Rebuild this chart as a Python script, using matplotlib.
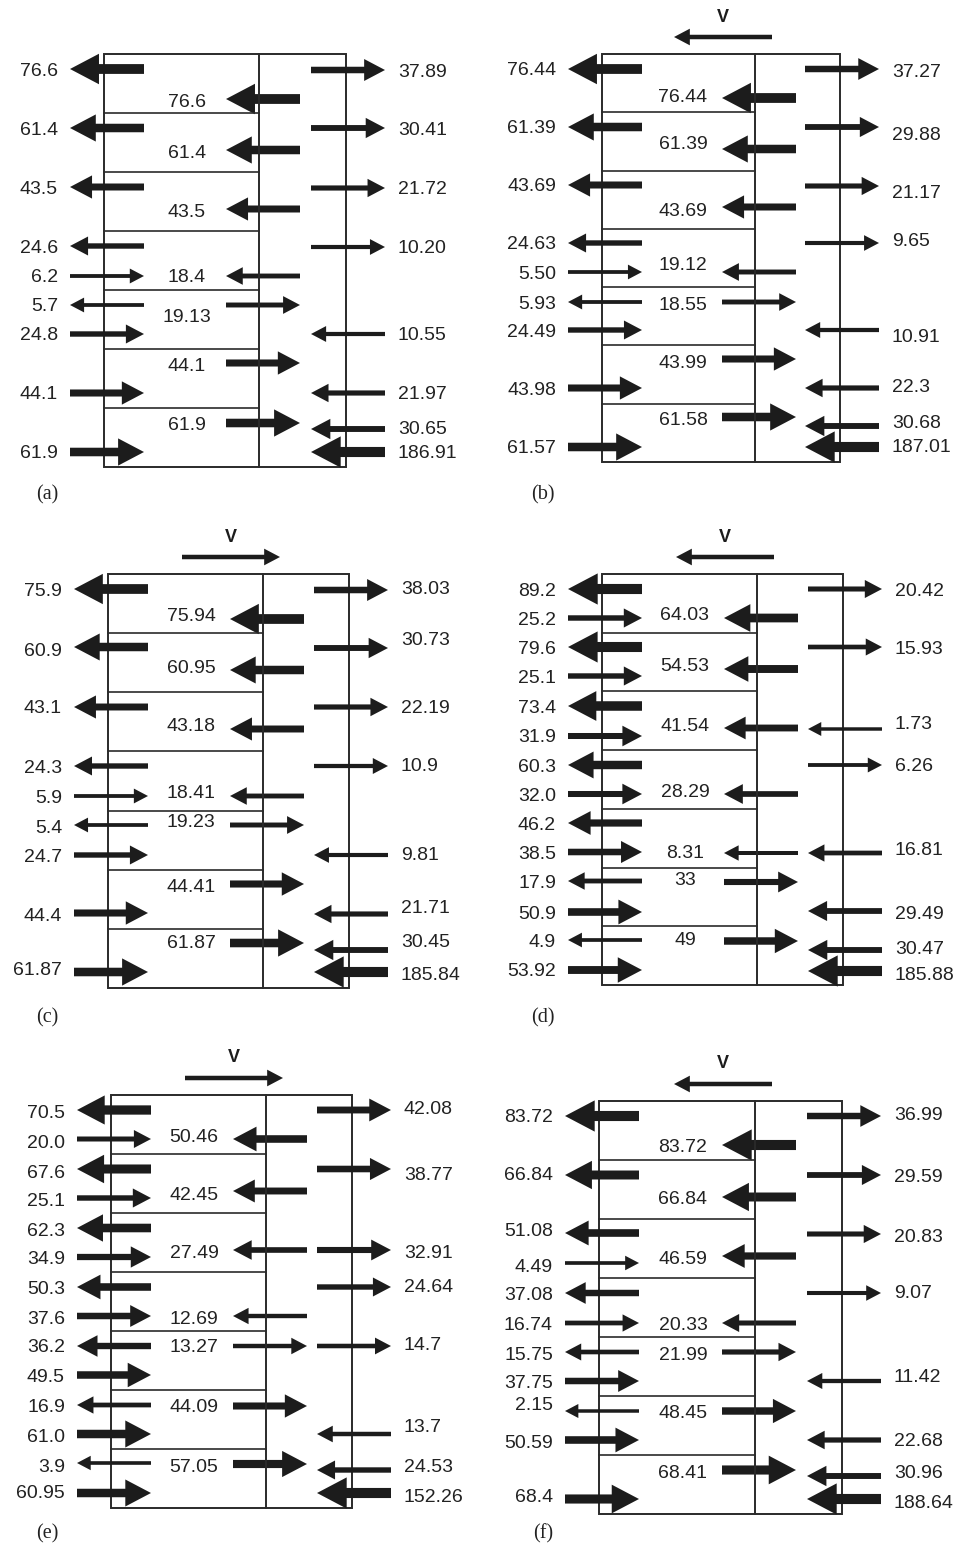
import matplotlib
matplotlib.use("Agg")
import matplotlib.pyplot as plt
from matplotlib.patches import FancyArrow, Rectangle

# ---- values (labels) per panel; direction: -1 points left, +1 points right ----
a_left = ['76.6', '61.4', '43.5', '24.6', '6.2', '5.7', '24.8', '44.1', '61.9']
a_left_dir = [-1, -1, -1, -1, 1, -1, 1, 1, 1]
a_inner = ['76.6', '61.4', '43.5', '18.4', '19.13', '44.1', '61.9']
a_inner_dir = [-1, -1, -1, -1, 1, 1, 1]
a_wall = ['37.89', '30.41', '21.72', '10.20', '10.55', '21.97', '30.65', '186.91']
a_wall_dir = [1, 1, 1, 1, -1, -1, -1, -1]

b_left = ['76.44', '61.39', '43.69', '24.63', '5.50', '5.93', '24.49', '43.98', '61.57']
b_left_dir = [-1, -1, -1, -1, 1, -1, 1, 1, 1]
b_inner = ['76.44', '61.39', '43.69', '19.12', '18.55', '43.99', '61.58']
b_inner_dir = [-1, -1, -1, -1, 1, 1, 1]
b_wall = ['37.27', '29.88', '21.17', '9.65', '10.91', '22.3', '30.68', '187.01']
b_wall_dir = [1, 1, 1, 1, -1, -1, -1, -1]

c_left = ['75.9', '60.9', '43.1', '24.3', '5.9', '5.4', '24.7', '44.4', '61.87']
c_left_dir = [-1, -1, -1, -1, 1, -1, 1, 1, 1]
c_inner = ['75.94', '60.95', '43.18', '18.41', '19.23', '44.41', '61.87']
c_inner_dir = [-1, -1, -1, -1, 1, 1, 1]
c_wall = ['38.03', '30.73', '22.19', '10.9', '9.81', '21.71', '30.45', '185.84']
c_wall_dir = [1, 1, 1, 1, -1, -1, -1, -1]

d_left = ['89.2', '25.2', '79.6', '25.1', '73.4', '31.9', '60.3', '32.0',
          '46.2', '38.5', '17.9', '50.9', '4.9', '53.92']
d_left_dir = [-1, 1, -1, 1, -1, 1, -1, 1, -1, 1, -1, 1, -1, 1]
d_inner = ['64.03', '54.53', '41.54', '28.29', '8.31', '33', '49']
d_inner_dir = [-1, -1, -1, -1, -1, 1, 1]
d_wall = ['20.42', '15.93', '1.73', '6.26', '16.81', '29.49', '30.47', '185.88']
d_wall_dir = [1, 1, -1, 1, -1, -1, -1, -1]

e_left = ['70.5', '20.0', '67.6', '25.1', '62.3', '34.9', '50.3', '37.6',
          '36.2', '49.5', '16.9', '61.0', '3.9', '60.95']
e_left_dir = [-1, 1, -1, 1, -1, 1, -1, 1, -1, 1, -1, 1, -1, 1]
e_inner = ['50.46', '42.45', '27.49', '12.69', '13.27', '44.09', '57.05']
e_inner_dir = [-1, -1, -1, -1, 1, 1, 1]
e_wall = ['42.08', '38.77', '32.91', '24.64', '14.7', '13.7', '24.53', '152.26']
e_wall_dir = [1, 1, 1, 1, 1, -1, -1, -1]

f_left = ['83.72', '66.84', '51.08', '4.49', '37.08', '16.74', '15.75', '37.75',
          '2.15', '50.59', '68.4']
f_left_dir = [-1, -1, -1, 1, -1, 1, -1, 1, -1, 1, 1]
f_inner = ['83.72', '66.84', '46.59', '20.33', '21.99', '48.45', '68.41']
f_inner_dir = [-1, -1, -1, -1, 1, 1, 1]
f_wall = ['36.99', '29.59', '20.83', '9.07', '11.42', '22.68', '30.96', '188.64']
f_wall_dir = [1, 1, 1, 1, -1, -1, -1, -1]

captions = ['(a)', '(b)', '(c)', '(d)', '(e)', '(f)']
v_dir = [0, -1, 1, -1, 1, -1]   # direction of the V arrow above each panel (0 = none)

# ---- layout (pixel units, offsets measured from top of each box) ----
boxes = [  # left, mid, right, top, bottom
    (104, 259, 346, 54, 467),
    (602, 755, 840, 54, 462),
    (108, 263, 349, 574, 988),
    (602, 757, 843, 574, 985),
    (111, 266, 352, 1095, 1508),
    (599, 755, 842, 1101, 1514),
]
caption_y = [495, 1018, 1534]   # one per row of panels
left_y = [
    [15, 74, 133, 192, 222, 251, 280, 339, 398],
    [15, 73, 131, 189, 218, 248, 276, 334, 393],
    [15, 73, 133, 192, 222, 251, 281, 339, 398],
    [15, 44, 73, 102, 132, 162, 191, 220, 249, 278, 307, 338, 366, 396],
    [15, 44, 74, 103, 133, 162, 192, 221, 251, 280, 310, 339, 368, 398],
    [15, 74, 132, 162, 192, 222, 251, 280, 310, 339, 398],
]
left_ly = [
    [17, 76, 135, 194, 223, 252, 281, 340, 399],
    [16, 74, 132, 190, 220, 250, 278, 336, 394],
    [17, 77, 134, 194, 224, 254, 283, 342, 396],
    [17, 46, 75, 104, 134, 163, 193, 222, 251, 280, 309, 340, 368, 397],
    [18, 48, 78, 107, 137, 165, 195, 225, 253, 283, 313, 342, 372, 399],
    [16, 74, 131, 166, 195, 224, 254, 283, 305, 342, 396],
]
inner_y = [
    [45, 96, 155, 222, 251, 309, 369],
    [44, 95, 153, 218, 248, 305, 363],
    [45, 96, 155, 222, 251, 310, 369],
    [44, 95, 154, 220, 279, 308, 367],
    [44, 96, 155, 221, 251, 311, 369],
    [44, 96, 155, 222, 251, 310, 369],
]
inner_ly = [
    [48, 99, 158, 223, 263, 312, 371],
    [43, 90, 157, 211, 251, 309, 366],
    [42, 94, 152, 219, 248, 313, 369],
    [41, 92, 152, 218, 279, 306, 366],
    [42, 100, 158, 225, 253, 313, 372],
    [47, 99, 158, 224, 254, 313, 372],
]
wall_y = [
    [16, 74, 134, 193, 280, 339, 375, 398],
    [15, 73, 132, 189, 276, 334, 372, 393],
    [16, 74, 133, 192, 281, 340, 376, 398],
    [15, 73, 155, 191, 279, 337, 376, 397],
    [15, 74, 155, 192, 251, 339, 375, 398],
    [15, 74, 133, 192, 280, 339, 375, 398],
]
wall_ly = [
    [18, 76, 135, 194, 281, 340, 375, 399],
    [18, 81, 139, 187, 283, 333, 369, 393],
    [15, 66, 134, 192, 281, 334, 368, 401],
    [17, 75, 150, 192, 276, 340, 375, 401],
    [15, 80, 158, 192, 251, 333, 372, 403],
    [15, 77, 136, 192, 277, 341, 372, 402],
]

panels = [
    (a_left, a_left_dir, a_inner, a_inner_dir, a_wall, a_wall_dir),
    (b_left, b_left_dir, b_inner, b_inner_dir, b_wall, b_wall_dir),
    (c_left, c_left_dir, c_inner, c_inner_dir, c_wall, c_wall_dir),
    (d_left, d_left_dir, d_inner, d_inner_dir, d_wall, d_wall_dir),
    (e_left, e_left_dir, e_inner, e_inner_dir, e_wall, e_wall_dir),
    (f_left, f_left_dir, f_inner, f_inner_dir, f_wall, f_wall_dir),
]

INK = '#1c1c1c'
NUMFONT = dict(family='Liberation Sans', size=14, color='#222222')


def arrow_size(val):
    v = min(float(val), 80.0)
    shaft = 3.3 + 6.8 * v / 80.0
    head = 2.6 * shaft + 5
    return shaft, head


def draw_arrow(ax, x0, x1, y, direction, val):
    # x0..x1 is the span of the arrow, direction picks which end holds the head
    shaft, head = arrow_size(val)
    if direction > 0:
        start, length = x0, x1 - x0
    else:
        start, length = x1, -(x1 - x0)
    ax.add_patch(FancyArrow(start, y, length, 0, width=shaft, head_width=head,
                            head_length=head * 0.95, length_includes_head=True,
                            color=INK, lw=0))


fig = plt.figure(figsize=(9.62, 15.49), dpi=100)
ax = fig.add_axes([0, 0, 1, 1])
ax.set_xlim(0, 962)
ax.set_ylim(1549, 0)
ax.axis('off')

for i, (lv, ld, iv, idr, wv, wd) in enumerate(panels):
    left, mid, right, top, bottom = boxes[i]
    ax.add_patch(Rectangle((left, top), right - left, bottom - top, fill=False,
                           ec='#2a2a2a', lw=1.4))
    ax.plot([mid, mid], [top, bottom], color='#2a2a2a', lw=1.4)
    fh = (bottom - top) / 7
    for k in range(1, 7):
        ax.plot([left, mid], [top + k * fh] * 2, color='#2a2a2a', lw=1.2)

    for val, d, y, ly in zip(lv, ld, left_y[i], left_ly[i]):
        draw_arrow(ax, left - 34, left + 40, top + y, d, val)
        ax.text(left - 46, top + ly, val, ha='right', va='center', **NUMFONT)
    for val, d, y, ly in zip(iv, idr, inner_y[i], inner_ly[i]):
        draw_arrow(ax, mid - 33, mid + 41, top + y, d, val)
        ax.text(mid - 72, top + ly, val, ha='center', va='center', **NUMFONT)
    for val, d, y, ly in zip(wv, wd, wall_y[i], wall_ly[i]):
        draw_arrow(ax, right - 35, right + 39, top + y, d, val)
        ax.text(right + 52, top + ly, val, ha='left', va='center', **NUMFONT)

    if v_dir[i] != 0:
        cx = mid - 32
        draw_arrow(ax, cx - 49, cx + 49, top - 17, v_dir[i], 14)
        ax.text(cx, top - 37, 'V', ha='center', va='center',
                family='Liberation Sans', size=13, weight='bold', color=INK)

    cap_x = 47 if i % 2 == 0 else 543
    ax.text(cap_x, caption_y[i // 2], captions[i], ha='center', va='center',
            family='Liberation Serif', size=14.5, color='#222222')

fig.savefig('out.png', dpi=100)
